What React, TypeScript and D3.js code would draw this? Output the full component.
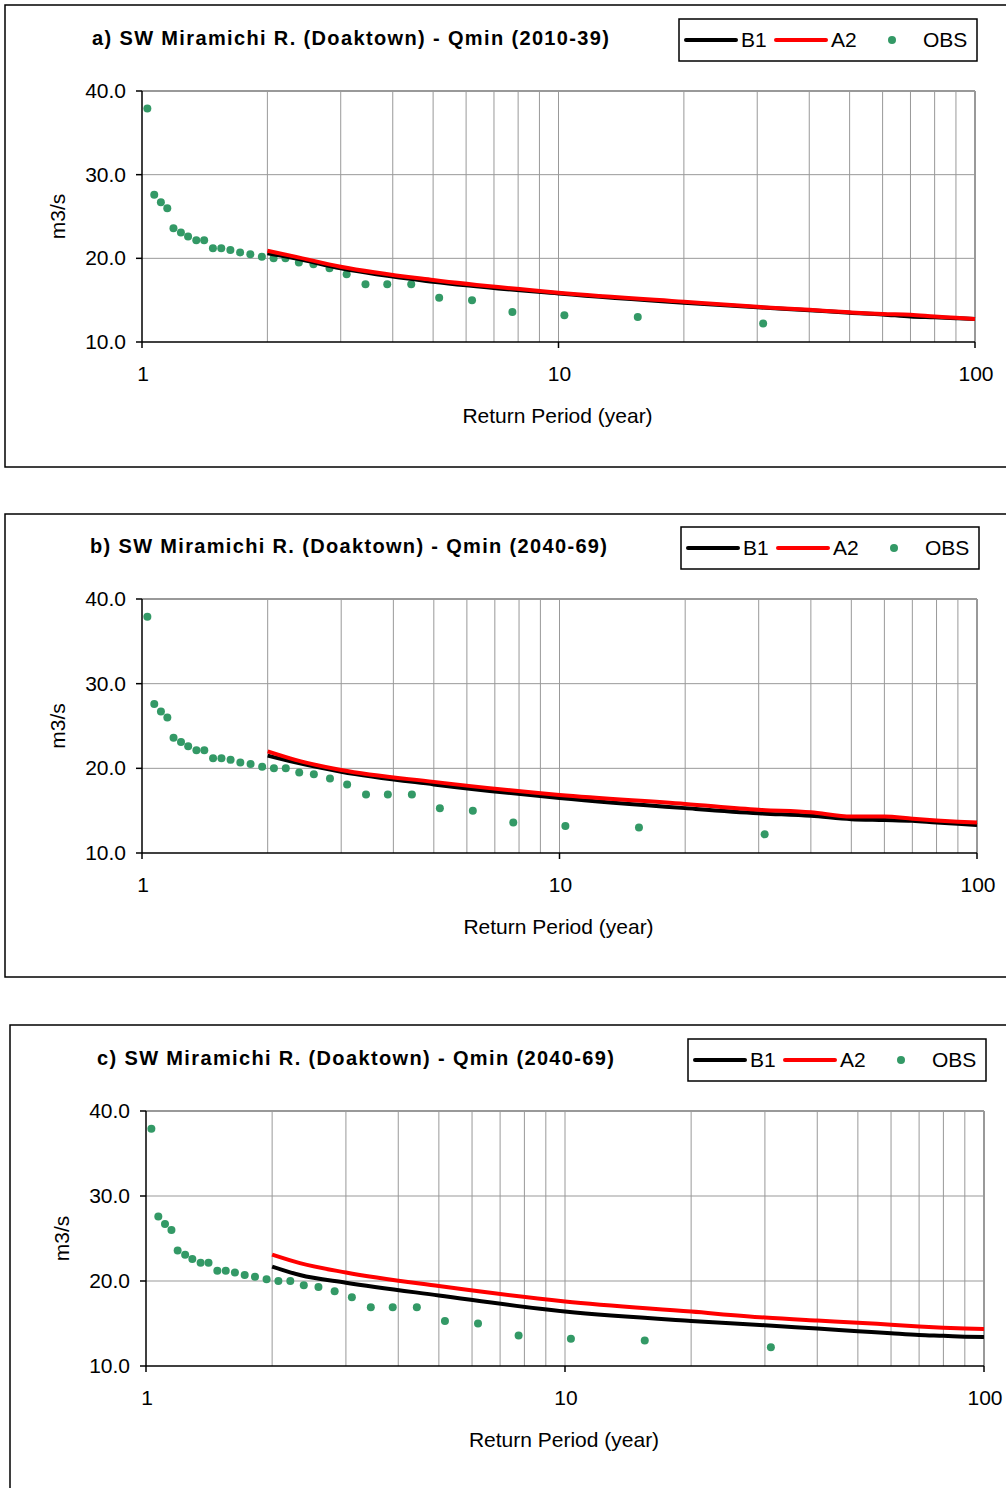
import { useEffect } from 'react';
import * as d3 from 'd3';

// observed minimum flows, plotted at their return periods (ascending)
const obsPeriods = [
  1.03, 1.07, 1.11, 1.15, 1.19, 1.24, 1.29, 1.35, 1.41, 1.48, 1.55, 1.63, 1.72, 1.82, 1.94,
  2.07, 2.21, 2.38, 2.58, 2.82, 3.1, 3.44, 3.88, 4.43, 5.17, 6.2, 7.75, 10.33, 15.5, 31.0,
];
const obsFlows = [
  37.9, 27.6, 26.7, 26.0, 23.6, 23.1, 22.6, 22.15, 22.15, 21.2, 21.2, 21.0, 20.7, 20.5, 20.2,
  20.0, 20.0, 19.5, 19.3, 18.8, 18.1, 16.9, 16.9, 16.9, 15.3, 15.0, 13.6, 13.2, 13.0, 12.2,
];

// return periods of the scenario curves
const periods = [2, 2.33, 3, 5, 10, 20, 30, 40, 50, 60, 70, 80, 90, 100];

const b1_2010 = [20.6, 20.0, 18.8, 17.2, 15.8, 14.7, 14.15, 13.8, 13.5, 13.3, 13.05, 12.95, 12.85, 12.75];
const a2_2010 = [20.9, 20.2, 19.0, 17.4, 15.9, 14.8, 14.2, 13.85, 13.55, 13.35, 13.25, 13.05, 12.9, 12.75];

const b1_2040b = [21.5, 20.7, 19.6, 18.1, 16.5, 15.3, 14.7, 14.4, 14.0, 13.9, 13.8, 13.6, 13.45, 13.3];
const a2_2040b = [22.0, 21.0, 19.8, 18.4, 16.85, 15.8, 15.1, 14.8, 14.3, 14.3, 14.05, 13.85, 13.7, 13.6];

const b1_2040c = [21.7, 20.7, 19.8, 18.3, 16.4, 15.3, 14.8, 14.4, 14.1, 13.85, 13.65, 13.55, 13.45, 13.4];
const a2_2040c = [23.1, 22.1, 21.0, 19.4, 17.6, 16.4, 15.7, 15.35, 15.1, 14.85, 14.65, 14.5, 14.4, 14.35];

const yTicks = [10, 20, 30, 40];
const xLabels = [1, 10, 100];
const titles = [
  'a) SW Miramichi  R. (Doaktown) - Qmin (2010-39)',
  'b) SW Miramichi  R. (Doaktown) - Qmin (2040-69)',
  'c) SW Miramichi  R. (Doaktown) - Qmin (2040-69)',
];

const FONT = '"Liberation Sans", Arial, sans-serif';
const OBS_COLOR = '#339966';
const GRID = '#999999';

interface PanelProps {
  title: string;
  frame: { x: number; y: number; h: number };
  plot: { x0: number; x1: number; y0: number; y1: number };
  titleX: number;
  b1: number[];
  a2: number[];
}

function Panel({ title, frame, plot, titleX, b1, a2 }: PanelProps) {
  const x = d3.scaleLog().domain([1, 100]).range([plot.x0, plot.x1]);
  const y = d3.scaleLinear().domain([10, 40]).range([plot.y1, plot.y0]);

  const minor = d3.range(1, 3).flatMap((e) =>
    d3.range(2, 11).map((m) => m * Math.pow(10, e - 1))
  );

  const line = d3
    .line<number>()
    .x((_, i) => x(periods[i]))
    .y((d) => y(d))
    .curve(d3.curveMonotoneX);

  const legX = plot.x1 - 296;
  const legY = plot.y0 - 72;
  const legMid = legY + 21;

  return (
    <g>
      <rect x={frame.x} y={frame.y} width={1100} height={frame.h} fill="#fff" stroke="#000" strokeWidth={1.5} />
      <text x={titleX} y={plot.y0 - 46} fontFamily={FONT} fontWeight="bold" fontSize={20} textLength={517} lengthAdjust="spacing">
        {title}
      </text>

      {/* grid */}
      {minor.map((t) => (
        <line key={'gx' + t} x1={x(t)} x2={x(t)} y1={plot.y0} y2={plot.y1} stroke={GRID} strokeWidth={1} />
      ))}
      {yTicks.slice(1, 3).map((t) => (
        <line key={'gy' + t} x1={plot.x0} x2={plot.x1} y1={y(t)} y2={y(t)} stroke={GRID} strokeWidth={1} />
      ))}
      <line x1={plot.x0} x2={plot.x1} y1={plot.y0} y2={plot.y0} stroke={GRID} strokeWidth={2} />
      <line x1={plot.x1} x2={plot.x1} y1={plot.y0} y2={plot.y1} stroke={GRID} strokeWidth={2} />

      {/* axes */}
      <line x1={plot.x0} x2={plot.x0} y1={plot.y0} y2={plot.y1} stroke="#000" strokeWidth={1.5} />
      <line x1={plot.x0} x2={plot.x1} y1={plot.y1} y2={plot.y1} stroke="#000" strokeWidth={1.5} />
      {yTicks.map((t) => (
        <g key={'yt' + t}>
          <line x1={plot.x0 - 6} x2={plot.x0} y1={y(t)} y2={y(t)} stroke="#000" strokeWidth={1.5} />
          <text x={plot.x0 - 16} y={y(t) + 7} textAnchor="end" fontFamily={FONT} fontSize={21}>
            {t.toFixed(1)}
          </text>
        </g>
      ))}
      {xLabels.map((t) => (
        <g key={'xt' + t}>
          <line x1={x(t)} x2={x(t)} y1={plot.y1} y2={plot.y1 + 6} stroke="#000" strokeWidth={1.5} />
          <text x={x(t) + 1} y={plot.y1 + 39} textAnchor="middle" fontFamily={FONT} fontSize={21}>
            {t}
          </text>
        </g>
      ))}
      <text x={(plot.x0 + plot.x1) / 2 - 1} y={plot.y1 + 81} textAnchor="middle" fontFamily={FONT} fontSize={21}>
        Return Period (year)
      </text>
      <text
        transform={`translate(${plot.x0 - 77},${(plot.y0 + plot.y1) / 2}) rotate(-90)`}
        textAnchor="middle"
        fontFamily={FONT}
        fontSize={21}
      >
        m3/s
      </text>

      {/* series */}
      {obsPeriods.map((p, i) => (
        <circle key={'o' + i} cx={x(p)} cy={y(obsFlows[i])} r={4} fill={OBS_COLOR} />
      ))}
      <path d={line(b1) ?? ''} fill="none" stroke="#000" strokeWidth={4} />
      <path d={line(a2) ?? ''} fill="none" stroke="#ff0000" strokeWidth={4} />

      {/* legend */}
      <rect x={legX} y={legY} width={298} height={42} fill="#fff" stroke="#000" strokeWidth={1.5} />
      <line x1={legX + 7} x2={legX + 57} y1={legMid} y2={legMid} stroke="#000" strokeWidth={4} strokeLinecap="round" />
      <text x={legX + 62} y={legMid + 7} fontFamily={FONT} fontSize={21}>B1</text>
      <line x1={legX + 97} x2={legX + 147} y1={legMid} y2={legMid} stroke="#ff0000" strokeWidth={4} strokeLinecap="round" />
      <text x={legX + 152} y={legMid + 7} fontFamily={FONT} fontSize={21}>A2</text>
      <circle cx={legX + 213} cy={legMid} r={4} fill={OBS_COLOR} />
      <text x={legX + 244} y={legMid + 7} fontFamily={FONT} fontSize={21}>OBS</text>
    </g>
  );
}

export default function App() {
  useEffect(() => {
    document.body.style.margin = '0';
  }, []);

  return (
    <svg width={1006} height={1488} style={{ display: 'block', background: '#fff' }}>
      <Panel
        title={titles[0]}
        frame={{ x: 5, y: 5, h: 462 }}
        plot={{ x0: 142, x1: 975, y0: 91, y1: 342 }}
        titleX={92}
        b1={b1_2010}
        a2={a2_2010}
      />
      <Panel
        title={titles[1]}
        frame={{ x: 5, y: 514, h: 463 }}
        plot={{ x0: 142, x1: 977, y0: 599, y1: 853 }}
        titleX={90}
        b1={b1_2040b}
        a2={a2_2040b}
      />
      <Panel
        title={titles[2]}
        frame={{ x: 10, y: 1025, h: 600 }}
        plot={{ x0: 146, x1: 984, y0: 1111, y1: 1366 }}
        titleX={97}
        b1={b1_2040c}
        a2={a2_2040c}
      />
    </svg>
  );
}
